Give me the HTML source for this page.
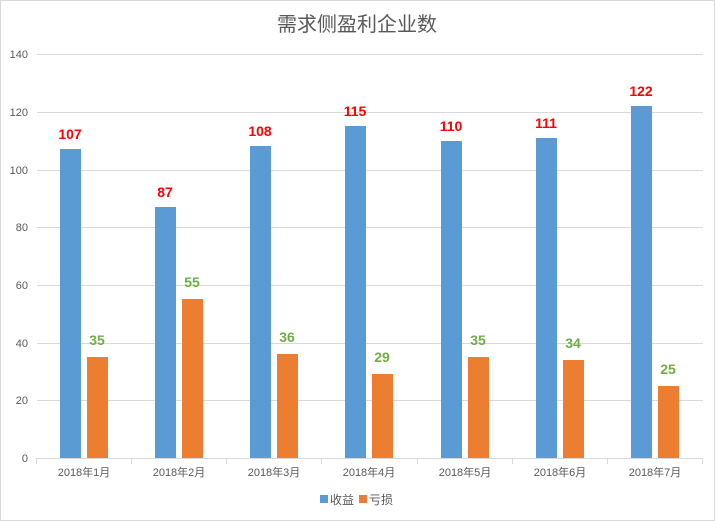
<!DOCTYPE html>
<html><head><meta charset="utf-8"><style>
html,body{margin:0;padding:0;background:#fff}
svg{display:block}
text{font-family:"Liberation Sans","Noto Sans CJK SC",sans-serif}
</style></head><body>
<svg width="715" height="521" xmlns="http://www.w3.org/2000/svg">
<rect x="0.5" y="0.5" width="714" height="520" fill="#fff" stroke="#d9d9d9"/>
<text x="357" y="31" text-anchor="middle" font-size="20" fill="#595959">需求侧盈利企业数</text>
<g stroke="#d9d9d9" stroke-width="1">
<line x1="37" x2="703" y1="54.5" y2="54.5"/>
<line x1="37" x2="703" y1="112.5" y2="112.5"/>
<line x1="37" x2="703" y1="170.5" y2="170.5"/>
<line x1="37" x2="703" y1="227.5" y2="227.5"/>
<line x1="37" x2="703" y1="285.5" y2="285.5"/>
<line x1="37" x2="703" y1="343.5" y2="343.5"/>
<line x1="37" x2="703" y1="400.5" y2="400.5"/>
<line x1="37" x2="703" y1="458.5" y2="458.5"/>
<line x1="36.5" x2="36.5" y1="458" y2="464"/>
<line x1="131.5" x2="131.5" y1="458" y2="464"/>
<line x1="226.5" x2="226.5" y1="458" y2="464"/>
<line x1="321.5" x2="321.5" y1="458" y2="464"/>
<line x1="417.5" x2="417.5" y1="458" y2="464"/>
<line x1="512.5" x2="512.5" y1="458" y2="464"/>
<line x1="607.5" x2="607.5" y1="458" y2="464"/>
<line x1="702.5" x2="702.5" y1="458" y2="464"/>
</g>
<g font-size="11" fill="#595959" text-anchor="end">
<text x="28" y="58">140</text><text x="28" y="116">120</text><text x="28" y="174">100</text>
<text x="28" y="231">80</text><text x="28" y="289">60</text><text x="28" y="347">40</text>
<text x="28" y="404">20</text><text x="28" y="462">0</text>
</g>
<g id="bars"></g>
<g font-size="11" fill="#595959" text-anchor="middle">
<text x="84" y="476">2018年1月</text><text x="179" y="476">2018年2月</text><text x="274" y="476">2018年3月</text>
<text x="369" y="476">2018年4月</text><text x="465" y="476">2018年5月</text><text x="560" y="476">2018年6月</text>
<text x="655" y="476">2018年7月</text>
</g>
<rect x="320" y="495" width="8" height="8" fill="#5b9bd5"/>
<text x="330" y="504" font-size="12" fill="#595959">收益</text>
<rect x="359" y="495" width="8" height="8" fill="#ed7d31"/>
<text x="369" y="504" font-size="12" fill="#595959">亏损</text>
<g>
<rect x="60" y="149" width="21" height="309" fill="#5b9bd5"/><rect x="87" y="357" width="21" height="101" fill="#ed7d31"/>
<rect x="155" y="207" width="21" height="251" fill="#5b9bd5"/><rect x="182" y="299" width="21" height="159" fill="#ed7d31"/>
<rect x="250" y="146" width="21" height="312" fill="#5b9bd5"/><rect x="277" y="354" width="21" height="104" fill="#ed7d31"/>
<rect x="345" y="126" width="21" height="332" fill="#5b9bd5"/><rect x="372" y="374" width="21" height="84" fill="#ed7d31"/>
<rect x="441" y="141" width="21" height="317" fill="#5b9bd5"/><rect x="468" y="357" width="21" height="101" fill="#ed7d31"/>
<rect x="536" y="138" width="21" height="320" fill="#5b9bd5"/><rect x="563" y="360" width="21" height="98" fill="#ed7d31"/>
<rect x="631" y="106" width="21" height="352" fill="#5b9bd5"/><rect x="658" y="386" width="21" height="72" fill="#ed7d31"/>
</g>
<g font-size="14" font-weight="bold" fill="#ff0000" text-anchor="middle">
<text x="70" y="139">107</text><text x="165" y="197">87</text><text x="260" y="136">108</text>
<text x="355" y="116">115</text><text x="451" y="131">110</text><text x="546" y="128">111</text><text x="641" y="96">122</text>
</g>
<g font-size="14" font-weight="bold" fill="#70ad47" text-anchor="middle">
<text x="97" y="345">35</text><text x="192" y="287">55</text><text x="287" y="342">36</text>
<text x="382" y="362">29</text><text x="478" y="345">35</text><text x="573" y="348">34</text><text x="668" y="374">25</text>
</g>
</svg>
</body></html>
